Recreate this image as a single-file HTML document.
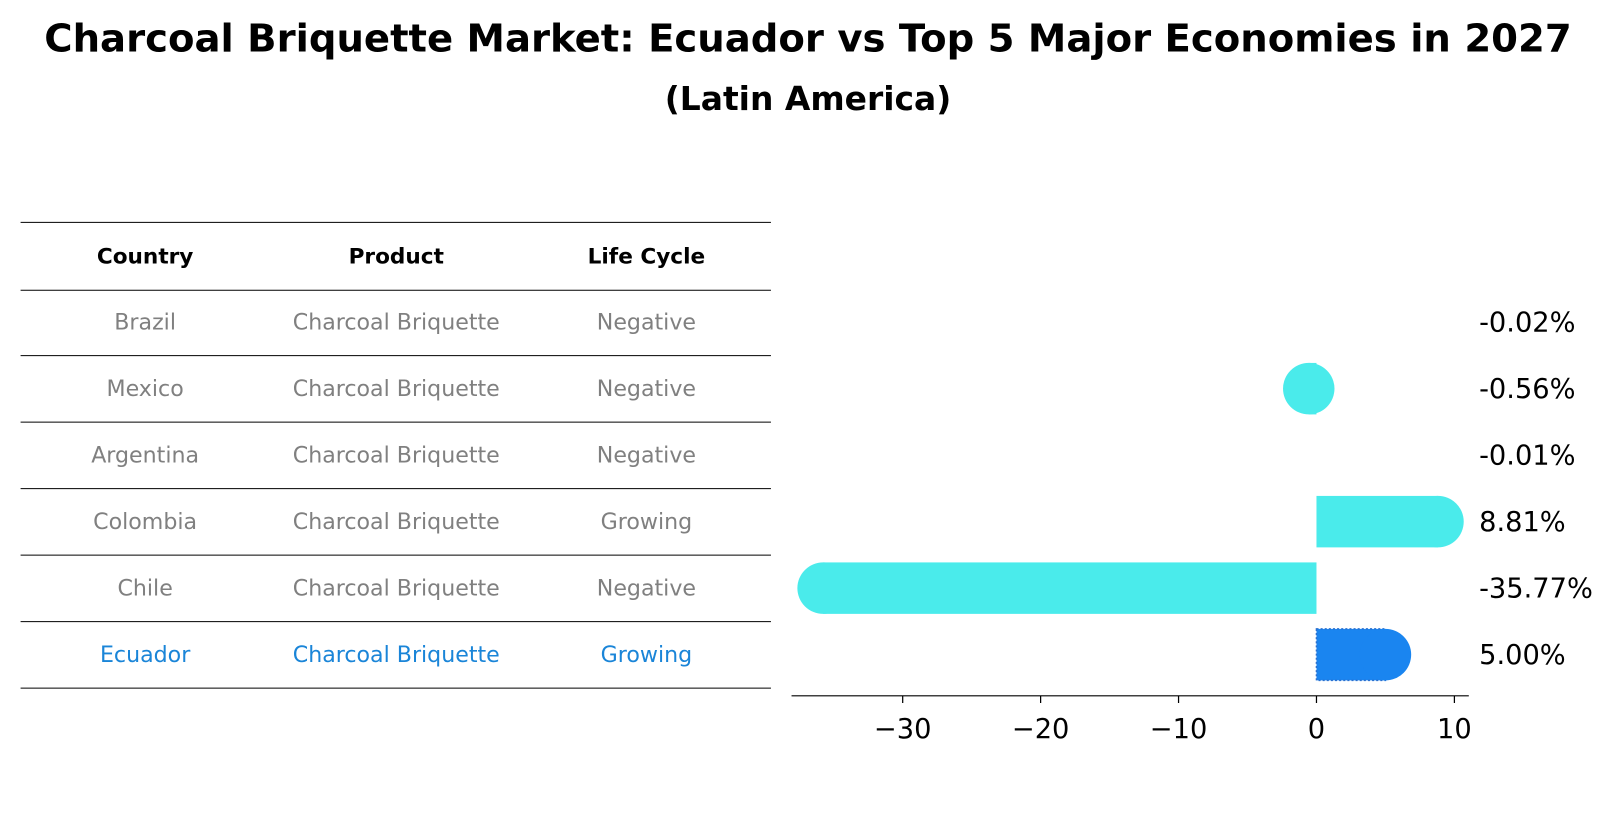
<!DOCTYPE html>
<html><head><meta charset="utf-8"><style>
body{margin:0;background:#fff;font-family:"Liberation Sans","DejaVu Sans",sans-serif}
svg{display:block}
</style></head><body>
<svg id="c" width="1614" height="823" xmlns="http://www.w3.org/2000/svg">
<g transform="scale(1.0293)">
<text x="785" y="50" text-anchor="middle" font-family="DejaVu Sans, Liberation Sans, sans-serif" font-weight="bold" font-size="37.5">Charcoal Briquette Market: Ecuador vs Top 5 Major Economies in 2027</text>
<text x="785" y="107" text-anchor="middle" font-family="DejaVu Sans, Liberation Sans, sans-serif" font-weight="bold" font-size="32">(Latin America)</text>
<g id="table"></g>
<g id="bars"></g>
</g>
</svg>
<script>
const countries=["Brazil","Mexico","Argentina","Colombia","Chile","Ecuador"];
const products=["Charcoal Briquette","Charcoal Briquette","Charcoal Briquette","Charcoal Briquette","Charcoal Briquette","Charcoal Briquette"];
const lifeCycles=["Negative","Negative","Negative","Growing","Negative","Growing"];
const growth=[-0.02,-0.56,-0.01,8.81,-35.77,5.00];
const xTicks=[-30,-20,-10,0,10];

const NS="http://www.w3.org/2000/svg";
function mk(tag,attrs,parent){const e=document.createElementNS(NS,tag);for(const k in attrs)e.setAttribute(k,attrs[k]);parent.appendChild(e);return e;}
const F="DejaVu Sans, Liberation Sans, sans-serif";
const rowY=i=>313+i*64.6;
const xs=v=>1279+v*13.4;

const tb=document.getElementById('table');
const lineYs=[216,282];
for(let i=0;i<countries.length;i++)lineYs.push(rowY(i)+32.5);
lineYs.forEach(y=>{const l=mk('line',{x1:20,x2:749,y1:y,y2:y,stroke:'#000','stroke-width':1},tb);

});
const colX=[141,385,628];
["Country","Product","Life Cycle"].forEach((h,j)=>{const t=mk('text',{x:colX[j],y:256,'text-anchor':'middle','font-size':21,'font-weight':'bold','font-family':F},tb);t.textContent=h;

});
countries.forEach((c,i)=>{const col=c==="Ecuador"?"#1a85d8":"#808080";
[c,products[i],lifeCycles[i]].forEach((v,j)=>{const t=mk('text',{x:colX[j],y:rowY(i)+7,'text-anchor':'middle','font-size':21.5,fill:col,'font-family':F},tb);t.textContent=v;

});});

const bg=document.getElementById('bars');
const r=25;
growth.forEach((v,i)=>{const y=rowY(i);const isE=countries[i]==="Ecuador";const col=isE?"#1a85f0":"#4aebeb";
const x0=xs(0),x1=xs(v);const g=mk('g',{},bg);


if(Math.abs(x1-x0)>=1){mk('rect',{x:Math.min(x0,x1),y:y-r,width:Math.abs(x1-x0),height:2*r,fill:col,stroke:isE?'#2a70d0':'none','stroke-dasharray':isE?'2,2':'','stroke-width':isE?1.5:0},g);
if(Math.abs(v)>0.3)mk('circle',{cx:x1,cy:y,r:r,fill:col},g);}
else if(Math.abs(v)>0.3)mk('circle',{cx:x1,cy:y,r:r,fill:col},g);
const t=mk('text',{x:1437,y:y+9,'font-size':26.5,'font-family':F},bg);t.textContent=v.toFixed(2)+"%";

});
const ax=mk('line',{x1:769,x2:1427,y1:676,y2:676,stroke:'#000','stroke-width':1.2},bg);


xTicks.forEach(v=>{const tk=mk('line',{x1:xs(v),x2:xs(v),y1:676,y2:683,stroke:'#000','stroke-width':1.2},bg);


const t=mk('text',{x:xs(v),y:717,'text-anchor':'middle','font-size':26.5,'font-family':F},bg);t.textContent=v<0?"\u2212"+Math.abs(v):String(v);

});
</script>
</body></html>
